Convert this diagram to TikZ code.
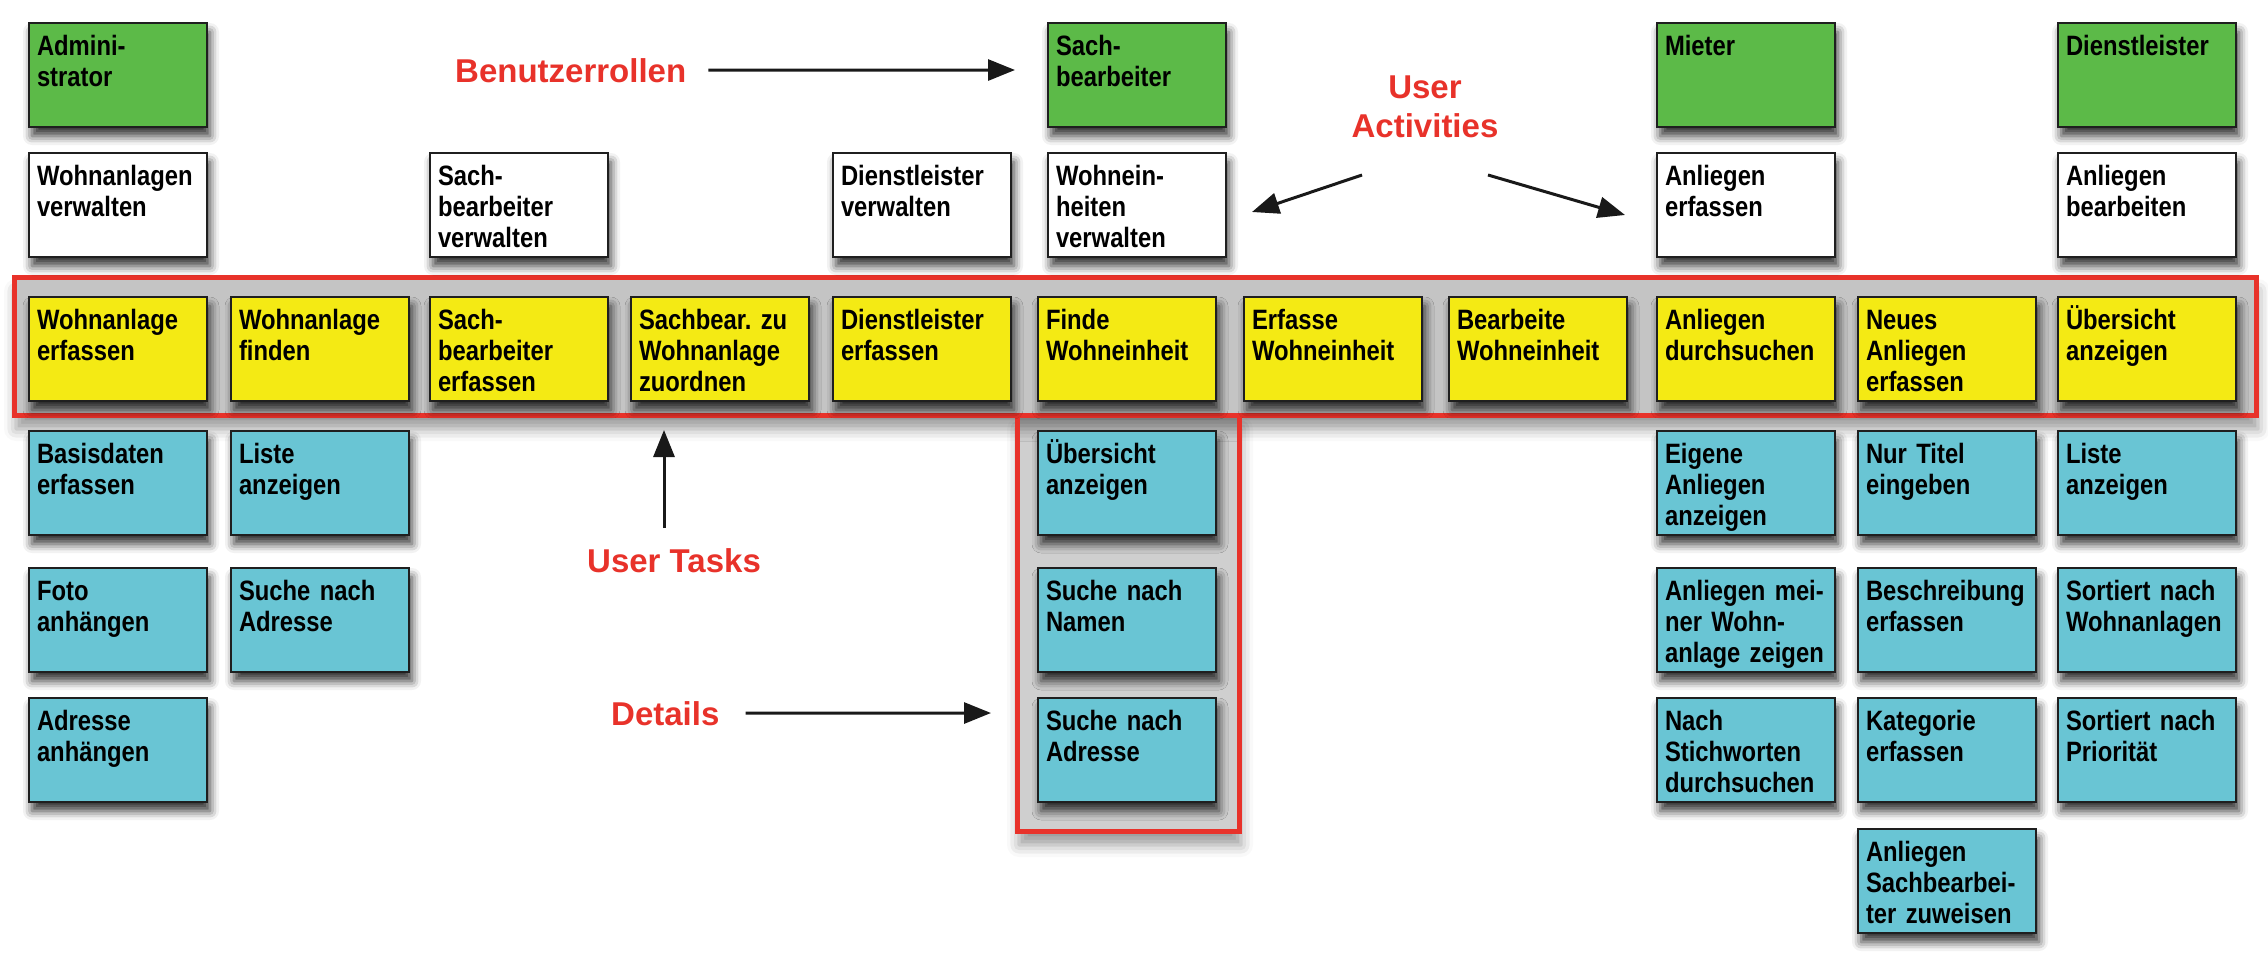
\documentclass[tikz,border=0pt]{standalone}
\usepackage{fontspec}
\setmainfont{Liberation Sans}
\newfontfamily\boxfont[FakeStretch=0.85]{Liberation Sans Bold}
\newfontfamily\lblfont{Liberation Sans Bold}
\usetikzlibrary{arrows.meta,shadows.blur}
\definecolor{stgreen}{HTML}{5CBA48}
\definecolor{styellow}{HTML}{F4EA14}
\definecolor{stblue}{HTML}{69C5D4}
\definecolor{stred}{HTML}{E8322A}
\definecolor{panelgray}{HTML}{C4C4C4}
\definecolor{detailgray}{HTML}{CFCFCF}
\tikzset{
  card/.style={rectangle, draw=black!88, line width=2pt, anchor=north west,
    minimum width=178pt, minimum height=104pt, inner xsep=8pt, inner ysep=7pt,
    text width=162pt, align=left, text height=25pt, text depth=65pt,
    font=\boxfont\fontsize{28}{31}\selectfont,
    blur shadow={shadow xshift=3pt, shadow yshift=-9pt, shadow blur radius=9pt, shadow opacity=80}},
  role/.style={card, fill=stgreen},
  act/.style={card, fill=white},
  task/.style={card, fill=styellow},
  detail/.style={card, fill=stblue},
  lbl/.style={text=stred, inner sep=0pt, font=\lblfont\fontsize{33}{39}\selectfont},
  arr/.style={line width=3pt, draw=black!90, -{Triangle[length=27pt,width=21pt]}},
  redframe/.style={draw=stred, line width=5pt},
  frameshadow/.style={blur shadow={shadow xshift=2pt, shadow yshift=-14pt, shadow blur radius=12pt, shadow opacity=40}}
}
\frenchspacing
\begin{document}
\begin{tikzpicture}[x=1pt,y=-1pt]
\useasboundingbox (0,0) rectangle (2268,980);
% frames
\path[fill=detailgray, frameshadow] (1017,415) rectangle (1239,831);
\path[redframe, fill=panelgray, frameshadow] (14,277) rectangle (2256,415);
\draw[redframe] (1017,415) rectangle (1239,831);
% roles
\node[role] (admin) at (28,22) {Admini-\\strator};
\node[role] (sachG) at (1047,22) {Sach-\\bearbeiter};
\node[role] (mieter) at (1656,22) {Mieter};
\node[role] (dienstG) at (2057,22) {Dienstleister};
% activities
\node[act] (w1) at (28,152) {Wohnanlagen\\verwalten};
\node[act] (w3) at (429,152) {Sach-\\bearbeiter\\verwalten};
\node[act] (w5) at (832,152) {Dienstleister\\verwalten};
\node[act] (w6) at (1047,152) {Wohnein-\\heiten\\verwalten};
\node[act] (w9) at (1656,152) {Anliegen\\erfassen};
\node[act] (w11) at (2057,152) {Anliegen\\bearbeiten};
% tasks
\node[task] (y1) at (28,296) {Wohnanlage\\erfassen};
\node[task] (y2) at (230,296) {Wohnanlage\\finden};
\node[task] (y3) at (429,296) {Sach-\\bearbeiter\\erfassen};
\node[task] (y4) at (630,296) {Sachbear. zu\\Wohnanlage\\zuordnen};
\node[task] (y5) at (832,296) {Dienstleister\\erfassen};
\node[task] (y6) at (1037,296) {Finde\\Wohneinheit};
\node[task] (y7) at (1243,296) {Erfasse\\Wohneinheit};
\node[task] (y8) at (1448,296) {Bearbeite\\Wohneinheit};
\node[task] (y9) at (1656,296) {Anliegen\\durchsuchen};
\node[task] (y10) at (1857,296) {Neues\\Anliegen\\erfassen};
\node[task] (y11) at (2057,296) {Übersicht\\anzeigen};
% details
\node[detail] (b11) at (28,430) {Basisdaten\\erfassen};
\node[detail] (b12) at (28,567) {Foto\\anhängen};
\node[detail] (b13) at (28,697) {Adresse\\anhängen};
\node[detail] (b21) at (230,430) {Liste\\anzeigen};
\node[detail] (b22) at (230,567) {Suche nach\\Adresse};
\node[detail] (b61) at (1037,430) {Übersicht\\anzeigen};
\node[detail] (b62) at (1037,567) {Suche nach\\Namen};
\node[detail] (b63) at (1037,697) {Suche nach\\Adresse};
\node[detail] (b91) at (1656,430) {Eigene\\Anliegen\\anzeigen};
\node[detail] (b92) at (1656,567) {Anliegen mei-\\ner Wohn-\\anlage zeigen};
\node[detail] (b93) at (1656,697) {Nach\\Stichworten\\durchsuchen};
\node[detail] (b101) at (1857,430) {Nur Titel\\eingeben};
\node[detail] (b102) at (1857,567) {Beschreibung\\erfassen};
\node[detail] (b103) at (1857,697) {Kategorie\\erfassen};
\node[detail] (b104) at (1857,828) {Anliegen\\Sachbearbei-\\ter zuweisen};
\node[detail] (b111) at (2057,430) {Liste\\anzeigen};
\node[detail] (b112) at (2057,567) {Sortiert nach\\Wohnanlagen};
\node[detail] (b113) at (2057,697) {Sortiert nach\\Priorität};
% labels
\node[lbl, anchor=base west] (br) at (455,82) {Benutzerrollen};
\node[lbl, align=center, anchor=north] (ua) at (1425,76) {User\\Activities};
\node[lbl, anchor=base west] (ut) at (587,572) {User Tasks};
\node[lbl, anchor=base west] (det) at (611,725) {Details};
% arrow ends
\coordinate (brT) at (1015,70);
\coordinate (uaL1) at (1362,175);
\coordinate (uaL2) at (1252,212);
\coordinate (uaR1) at (1488,175);
\coordinate (uaR2) at (1625,215);
\coordinate (utS) at (664,528);
\coordinate (utT) at (664,430);
\coordinate (detT) at (991,713);
% arrows
\draw[arr, shorten <=22pt] (br.east) -- (brT);
\draw[arr] (uaL1) -- (uaL2);
\draw[arr] (uaR1) -- (uaR2);
\draw[arr] (utS) -- (utT);
\draw[arr, shorten <=26pt] (det.east) -- (detT);
\end{tikzpicture}
\end{document}
